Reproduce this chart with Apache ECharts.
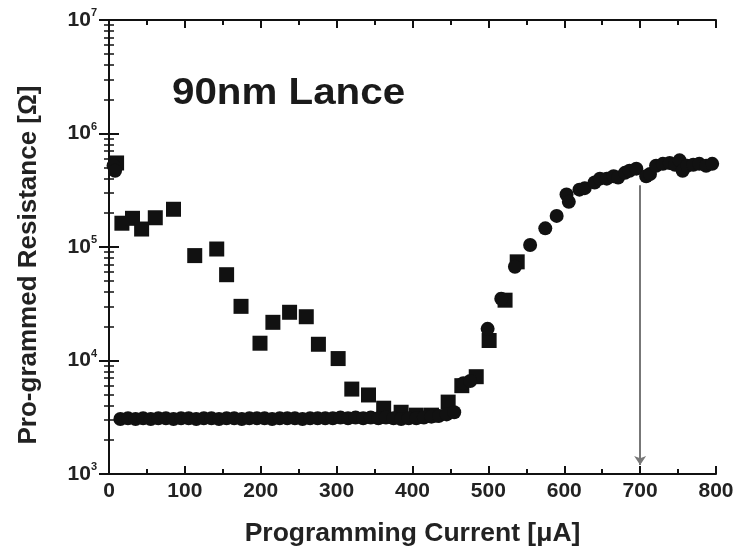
<!DOCTYPE html>
<html><head><meta charset="utf-8">
<script src="https://cdn.jsdelivr.net/npm/echarts@6/dist/echarts.min.js"></script>
<style>html,body{margin:0;padding:0;background:#fff}#c{width:741px;height:557px}</style>
</head><body><div id="c"></div>
<script>
// ---- data ----
const squareX = [10, 17, 31, 43, 61, 85, 113, 142, 155, 174, 199, 216, 238, 260, 276, 302, 320, 342, 362, 385, 405, 425, 447, 465, 484, 501, 522, 538];
const squareY = [5.5e5, 1.62e5, 1.79e5, 1.44e5, 1.81e5, 2.15e5, 8.4e4, 9.6e4, 5.7e4, 3.0e4, 1.42e4, 2.17e4, 2.66e4, 2.43e4, 1.39e4, 1.04e4, 5.6e3, 4.97e3, 3.8e3, 3.5e3, 3.3e3, 3.3e3, 4.3e3, 6.0e3, 7.2e3, 1.5e4, 3.4e4, 7.4e4];
const circleX = [6, 8, 15, 25, 35, 45, 55, 65, 75, 85, 95, 105, 115, 125, 135, 145, 155, 165, 175, 185, 195, 205, 215, 225, 235, 245, 255, 265, 275, 285, 295, 305, 315, 325, 335, 345, 355, 365, 375, 385, 395, 405, 415, 425, 435, 445, 455, 467, 476, 499, 517, 535, 555, 575, 590, 603, 606, 620, 627, 640, 647, 656, 665, 671, 680, 686, 695, 708, 713, 721, 730, 739, 746, 752, 756, 762, 770, 778, 787, 795];
const circleY = [5.2e5, 4.7e5, 3.05e3, 3.1e3, 3.05e3, 3.1e3, 3.05e3, 3.1e3, 3.1e3, 3.05e3, 3.1e3, 3.1e3, 3.05e3, 3.1e3, 3.1e3, 3.05e3, 3.1e3, 3.1e3, 3.05e3, 3.1e3, 3.1e3, 3.1e3, 3.05e3, 3.1e3, 3.1e3, 3.1e3, 3.05e3, 3.1e3, 3.1e3, 3.1e3, 3.1e3, 3.15e3, 3.1e3, 3.15e3, 3.1e3, 3.15e3, 3.1e3, 3.15e3, 3.1e3, 3.05e3, 3.1e3, 3.1e3, 3.15e3, 3.2e3, 3.25e3, 3.35e3, 3.5e3, 6.3e3, 6.6e3, 1.9e4, 3.5e4, 6.7e4, 1.04e5, 1.46e5, 1.88e5, 2.9e5, 2.5e5, 3.2e5, 3.3e5, 3.7e5, 4.0e5, 4.0e5, 4.2e5, 4.1e5, 4.5e5, 4.7e5, 4.9e5, 4.2e5, 4.4e5, 5.2e5, 5.4e5, 5.5e5, 5.3e5, 5.8e5, 4.7e5, 5.2e5, 5.3e5, 5.4e5, 5.2e5, 5.4e5];
const xTickLabels = [0, 100, 200, 300, 400, 500, 600, 700, 800];
const yTickExponents = [3, 4, 5, 6, 7];
const arrowX = 700, arrowFrom = 3.5e5, arrowTo = 1.2e3;
const titleText = '90nm Lance';
const xName = 'Programming Current [μA]';
const yName = 'Pro-grammed Resistance [Ω]';

const F = 'Liberation Sans, Arial, sans-serif';
const zip = (a, b) => a.map((v, i) => [v, b[i]]);
const chart = echarts.init(document.getElementById('c'), null, {renderer: 'canvas'});
const axisCommon = {
  axisLine: {show: true, lineStyle: {color: '#111', width: 2}},
  splitLine: {show: false}
};
chart.setOption({
  backgroundColor: '#fff',
  animation: false,
  grid: {left: 109, right: 25, top: 20, bottom: 83},
  graphic: [{
    type: 'text', x: 172, y: 76, scaleX: 1.12,
    style: {text: titleText, font: 'bold 36px ' + F, fill: '#1a1a1a'}
  }],
  xAxis: [{
    ...axisCommon, type: 'value', min: xTickLabels[0], max: xTickLabels[xTickLabels.length - 1], interval: 100,
    axisTick: {inside: true, length: 8, lineStyle: {width: 2, color: '#111'}},
    minorTick: {show: true, splitNumber: 2, length: 5, lineStyle: {width: 2, color: '#111'}},
    axisLabel: {fontFamily: F, fontWeight: 'bold', fontSize: 21, color: '#222', margin: 7},
    name: xName, nameLocation: 'middle', nameGap: 46,
    nameTextStyle: {fontFamily: F, fontWeight: 'bold', fontSize: 26.5, color: '#222'}
  }, {
    ...axisCommon, type: 'value', position: 'top', min: 0, max: 800, interval: 100,
    axisTick: {inside: true, length: 8, lineStyle: {width: 2, color: '#111'}},
    minorTick: {show: true, splitNumber: 2, length: 5, lineStyle: {width: 2, color: '#111'}},
    axisLabel: {show: false}
  }],
  yAxis: [{
    ...axisCommon, type: 'log', logBase: 10, min: Math.pow(10, yTickExponents[0]), max: Math.pow(10, yTickExponents[yTickExponents.length - 1]),
    axisTick: {inside: true, length: 10, lineStyle: {width: 2, color: '#111'}},
    minorTick: {show: true, splitNumber: 9, length: 5, lineStyle: {width: 1.5, color: '#111'}},
    axisLabel: {
      margin: 12,
      formatter: v => '{b|10}{s|' + Math.round(Math.log10(v)) + '}',
      rich: {
        b: {fontFamily: F, fontWeight: 'bold', fontSize: 21, color: '#222'},
        s: {fontFamily: F, fontWeight: 'bold', fontSize: 11, color: '#222', padding: [0, 0, 14, 0]}
      }
    },
    name: yName, nameLocation: 'middle', nameGap: 67,
    nameTextStyle: {fontFamily: F, fontWeight: 'bold', fontSize: 26, color: '#222', padding: [0, 36, 0, 0]}
  }, {
    ...axisCommon, type: 'log', logBase: 10, position: 'right', min: 1e3, max: 1e7,
    axisTick: {inside: true, length: 10, lineStyle: {width: 2, color: '#111'}},
    minorTick: {show: true, splitNumber: 9, length: 5, lineStyle: {width: 1.5, color: '#111'}},
    axisLabel: {show: false}
  }],
  series: [{
    type: 'scatter', name: 'squares', data: zip(squareX, squareY),
    symbol: 'rect', symbolSize: 15, itemStyle: {color: '#111', opacity: 1},
    markLine: {
      silent: true, symbol: ['none', 'arrow'], symbolSize: 9,
      label: {show: false},
      lineStyle: {color: '#777', width: 2, type: 'solid'},
      data: [[{coord: [arrowX, arrowFrom]}, {coord: [arrowX, arrowTo]}]]
    }
  }, {
    type: 'scatter', name: 'circles', data: zip(circleX, circleY),
    symbol: 'circle', symbolSize: 14, itemStyle: {color: '#111', opacity: 1}
  }]
});
</script>
</body></html>
